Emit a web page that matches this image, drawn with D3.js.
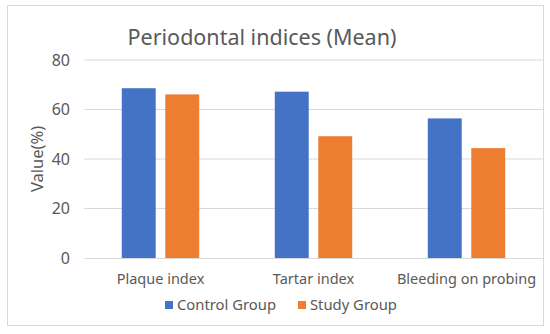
<!DOCTYPE html>
<html>
<head>
<meta charset="utf-8">
<script src="https://cdn.jsdelivr.net/npm/d3@7"></script>
<style>
  body { margin: 0; background: #fff; }
  text { font-family: 'Noto Sans', sans-serif; fill: #595959; }
</style>
</head>
<body>
<div id="chart"></div>
<script>
// data
const categories = ['Plaque index', 'Tartar index', 'Bleeding on probing']
const seriesNames = ['Control Group', 'Study Group']
const controlValues = [68.6, 67.2, 56.4]
const studyValues = [66.1, 49.2, 44.4]
const yTicks = [0, 20, 40, 60, 80]
const colors = ['#4472C4', '#ED7D31']

const W = 550
const H = 334
const margin = { top: 60, right: 7, bottom: 76, left: 84 }
const width = W - margin.left - margin.right
const height = 258 - margin.top

const svg = d3
  .select('#chart')
  .append('svg')
  .attr('width', W)
  .attr('height', H)

// outer frame
svg
  .append('rect')
  .attr('x', 7.5)
  .attr('y', 5.5)
  .attr('width', 536)
  .attr('height', 320)
  .attr('fill', '#fff')
  .attr('stroke', '#d9d9d9')

// title
svg
  .append('text')
  .attr('x', 262)
  .attr('y', 45)
  .attr('text-anchor', 'middle')
  .style('font-size', '21.5px')
  .text('Periodontal indices (Mean)')

const g = svg
  .append('g')
  .attr('transform', 'translate(' + margin.left + ',' + margin.top + ')')

// scales
const x0 = d3
  .scaleBand()
  .domain(categories)
  .range([0, width])
  .paddingInner(0.494)
  .paddingOuter(0.247)

const x1 = d3
  .scaleBand()
  .domain(seriesNames)
  .range([0, x0.bandwidth()])
  .paddingInner(0.22)

const y = d3
  .scaleLinear()
  .domain([0, 80])
  .range([height, 0])

// gridlines
g.append('g')
  .selectAll('line')
  .data(yTicks.filter(d => d > 0))
  .enter()
  .append('line')
  .attr('x1', 0)
  .attr('x2', width)
  .attr('y1', d => y(d))
  .attr('y2', d => y(d))
  .attr('stroke', '#d9d9d9')
  .attr('stroke-width', 1)

// y axis labels
const yAxis = g
  .append('g')
  .call(d3.axisLeft(y).tickValues(yTicks).tickSize(0).tickPadding(14))
yAxis.select('.domain').remove()
yAxis.selectAll('text').style('font-size', '16px').attr('fill', '#595959')

// bars
const data = categories.map((c, i) => ({
  category: c,
  values: [controlValues[i], studyValues[i]]
}))

const groups = g
  .selectAll('.group')
  .data(data)
  .enter()
  .append('g')
  .attr('transform', d => 'translate(' + x0(d.category) + ',0)')

groups
  .selectAll('rect')
  .data(d => d.values.map((v, j) => ({ key: seriesNames[j], value: v, idx: j })))
  .enter()
  .append('rect')
  .attr('x', d => x1(d.key))
  .attr('y', d => y(d.value))
  .attr('width', x1.bandwidth())
  .attr('height', d => height - y(d.value))
  .attr('fill', d => colors[d.idx])

// x axis
const xAxis = g
  .append('g')
  .attr('transform', 'translate(0,' + height + ')')
  .call(d3.axisBottom(x0).tickSize(0).tickPadding(16))
xAxis.select('.domain').attr('stroke', '#d9d9d9')
xAxis.selectAll('text').style('font-size', '14.5px').attr('fill', '#595959')

// y axis title
svg
  .append('text')
  .attr('transform', 'translate(43,159) rotate(-90)')
  .attr('text-anchor', 'middle')
  .style('font-size', '16.5px')
  .text('Value(%)')

// legend
const legend = svg
  .append('g')
  .selectAll('g')
  .data(seriesNames)
  .enter()
  .append('g')
  .attr('transform', (d, i) => 'translate(' + [165, 298][i] + ',301)')

legend
  .append('rect')
  .attr('width', 8)
  .attr('height', 8)
  .attr('fill', (d, i) => colors[i])

legend
  .append('text')
  .attr('x', 12)
  .attr('y', 9)
  .style('font-size', '14.8px')
  .text(d => d)
</script>
</body>
</html>
